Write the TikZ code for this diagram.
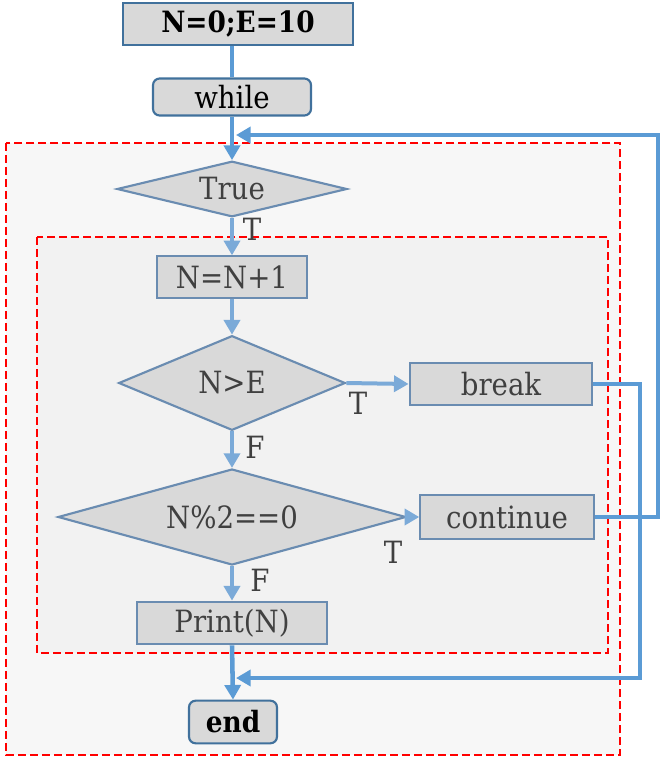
\documentclass[tikz,border=0pt]{standalone}
\usepackage{fontspec}
\setmainfont{DejaVu Serif Condensed}
\usetikzlibrary{shapes.geometric,arrows.meta}

\definecolor{boxfill}{HTML}{D9D9D9}
\definecolor{boxline}{HTML}{6A8CB1}
\definecolor{headline}{HTML}{41719C}
\definecolor{flowblue}{HTML}{5B9BD5}
\definecolor{stepblue}{HTML}{7BAAD8}
\definecolor{txtgray}{HTML}{404040}
\definecolor{outerfill}{HTML}{F7F7F7}
\definecolor{innerfill}{HTML}{F2F2F2}

\begin{document}
\begin{tikzpicture}[x=0.75pt,y=-0.75pt,
    every node/.style={font=\fontsize{23}{27}\selectfont},
    procbox/.style={draw=boxline, line width=1.6pt, fill=boxfill, text=txtgray, inner sep=0pt},
    headbox/.style={procbox, draw=headline, text=black, rounded corners=5pt},
    decision/.style={procbox, diamond, shape aspect=2},
    block/.style={draw=red, line width=1.5pt, dash pattern=on 6pt off 3pt},
    flow/.style={stepblue, line width=3pt, -{Triangle[length=11pt,width=12pt]}},
    loopback/.style={flowblue, line width=3.4pt, -{Triangle[length=11pt,width=12pt]}},
    tag/.style={text=txtgray, inner sep=0pt}]
    \useasboundingbox (0,0) rectangle (661,760);

    % 循环体外框
    \draw[block, fill=outerfill] (6,143) rectangle (620,755);
    \draw[block, fill=innerfill] (37,237) rectangle (608,653);

    % 初始化
    \node[headbox, rounded corners=0pt, minimum width=172.5pt, minimum height=31.5pt,
          font=\fontsize{22}{26}\selectfont\bfseries] (init) at (238,24) {N=0;E=10};
    \node[headbox, minimum width=118.5pt, minimum height=27.75pt] (while) at (232,97) {while};

    % 判断与语句
    \node[decision, minimum width=172.5pt, minimum height=39.75pt] (true) at (232,189) {True};
    \node[procbox, minimum width=113pt, minimum height=31pt] (inc) at (232,277) {N=N+1};
    \node[decision, minimum width=170pt, minimum height=71pt] (cmp) at (232,383) {N>E};
    \node[procbox, minimum width=137pt, minimum height=32pt] (brk) at (501,384) {break};
    \node[decision, minimum width=261pt, minimum height=72pt] (even) at (232,517) {N\%2==0};
    \node[procbox, minimum width=130pt, minimum height=33pt] (cont) at (507,517) {continue};
    \node[procbox, minimum width=143pt, minimum height=32pt] (prt) at (232,623) {Print(N)};
    \node[headbox, minimum width=66pt, minimum height=32pt,
          font=\fontsize{22}{26}\selectfont\bfseries] (end) at (233,722) {end};

    % 汇合点
    \coordinate (top) at (232,135);
    \coordinate (join) at (232,678);

    % 主流程
    \draw[flowblue, line width=3.4pt] (init.south -| while.north) -- (while.north);
    \draw[loopback] (while.south) -- (true.north);
    \draw[flow] (true.south) -- (inc.north);
    \draw[flow] (inc.south) -- (cmp.north);
    \draw[flow] (cmp.east) -- (brk.west);
    \draw[flow] (cmp.south) -- (even.north);
    \draw[flow] (even.east) -- (cont.west);
    \draw[flow] (even.south) -- (prt.north);
    \draw[loopback] (prt.south) -- (end.north);

    % break 跳出, continue 回到开头
    \draw[loopback] (brk.east) -- (640,384) -- (640,678) -- ([xshift=3pt]join);
    \draw[loopback] (cont.east) -- (658,517) -- (658,135) -- ([xshift=3pt]top);

    % 分支标记
    \node[tag] (t1) at (252,229) {T};
    \node[tag] (t2) at (358,403) {T};
    \node[tag] (f1) at (255,447) {F};
    \node[tag] (t3) at (393,552) {T};
    \node[tag] (f2) at (260,580) {F};
\end{tikzpicture}
\end{document}
